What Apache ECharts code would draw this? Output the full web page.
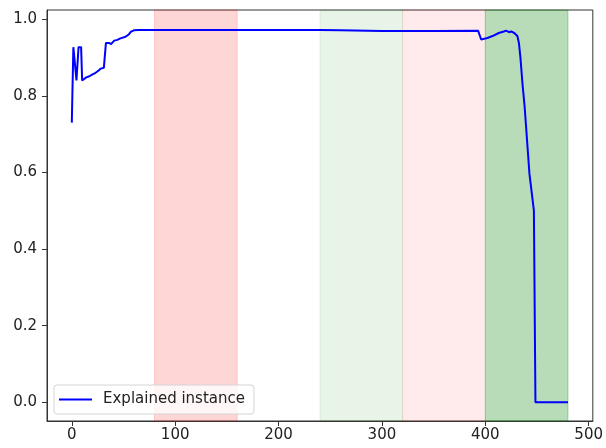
<!DOCTYPE html>
<html>
<head>
<meta charset="utf-8">
<script src="https://cdn.jsdelivr.net/npm/echarts@6/dist/echarts.min.js"></script>
<style>
  html, body { margin: 0; padding: 0; background: #fff; }
  #chart { width: 606px; height: 448px; }
</style>
</head>
<body>
<div id="chart"></div>
<script>
// Explanation score along the instance index
const xValues = [0, 1.5, 2.5, 4.5, 6.5, 9, 10, 11, 14, 17, 20, 23, 26, 28, 31, 32, 33, 36, 38, 41, 44, 47, 52, 55, 57, 60, 65,
  100, 150, 200, 240, 260, 300, 350, 393, 396, 402, 407, 413, 418, 420, 423, 425, 428, 431, 432.5, 434, 436, 438,
  439.5, 442.7, 444, 447, 448.5, 480];
const yValues = [0.73, 0.927, 0.927, 0.84, 0.927, 0.927, 0.84, 0.843, 0.848, 0.851, 0.856, 0.86, 0.866, 0.871, 0.873, 0.873, 0.938, 0.938, 0.935, 0.944, 0.946, 0.95, 0.954, 0.96, 0.967, 0.971, 0.972,
  0.972, 0.972, 0.972, 0.972, 0.971, 0.969, 0.969, 0.970, 0.947, 0.951, 0.956, 0.964, 0.968, 0.970, 0.966, 0.968, 0.964, 0.956, 0.938, 0.899, 0.83, 0.773,
  0.77, 0.596, 0.594, 0.5, 0.0, 0.0];

// Highlighted index ranges and their fills
const spanStarts = [80, 240, 320, 400];
const spanEnds = [160, 320, 400, 480];
const spanColors = ['rgba(255,0,0,0.16)', 'rgba(0,128,0,0.09)', 'rgba(255,0,0,0.08)', 'rgba(0,128,0,0.28)'];

const xTicks = [0, 100, 200, 300, 400, 500];
const yTicks = [0, 0.2, 0.4, 0.6, 0.8, 1.0];
const seriesName = 'Explained instance';

const points = xValues.map((x, i) => [x, yValues[i]]);
const areas = spanStarts.map((s, i) => [
  { xAxis: s, itemStyle: { color: spanColors[i], borderColor: spanColors[i], borderWidth: 1 } },
  { xAxis: spanEnds[i] }
]);

const font = 'DejaVu Sans';
const chart = echarts.init(document.getElementById('chart'), null, { renderer: 'canvas' });
chart.setOption({
  animation: false,
  backgroundColor: '#fff',
  grid: { left: 47, right: 9, top: 10, bottom: 27, show: true, borderColor: '#333', borderWidth: 1, backgroundColor: 'transparent' },
  xAxis: {
    type: 'value', min: -24, max: 504,
    axisLine: { show: true, onZero: false, lineStyle: { color: '#333', width: 1 } },
    axisTick: { show: true, length: 5, inside: false, customValues: xTicks, lineStyle: { color: '#333' } },
    axisLabel: { customValues: xTicks, color: '#222', fontFamily: font, fontSize: 15, margin: 7 },
    splitLine: { show: false }
  },
  yAxis: {
    type: 'value', min: -0.049, max: 1.024,
    axisLine: { show: true, onZero: false, lineStyle: { color: '#333', width: 1 } },
    axisTick: { show: true, length: 5, inside: false, customValues: yTicks, lineStyle: { color: '#333' } },
    axisLabel: { customValues: yTicks, color: '#222', fontFamily: font, fontSize: 15, margin: 10,
      formatter: v => v.toFixed(1) },
    splitLine: { show: false }
  },
  legend: {
    left: 54, top: 385,
    padding: [7, 9, 7, 5],
    itemWidth: 33, itemHeight: 2, itemGap: 10,
    icon: 'rect',
    backgroundColor: 'rgba(255,255,255,0.8)',
    borderColor: '#d4d4d4', borderWidth: 1, borderRadius: 3,
    textStyle: { fontFamily: font, fontSize: 15, color: '#222', padding: [0, 0, 0, 6] },
    data: [seriesName]
  },
  series: [{
    name: seriesName,
    type: 'line',
    data: points,
    symbol: 'none',
    lineStyle: { color: '#0000ff', width: 2 },
    itemStyle: { color: '#0000ff' },
    markArea: { silent: true, data: areas },
    z: 3
  }]
});
</script>
</body>
</html>
